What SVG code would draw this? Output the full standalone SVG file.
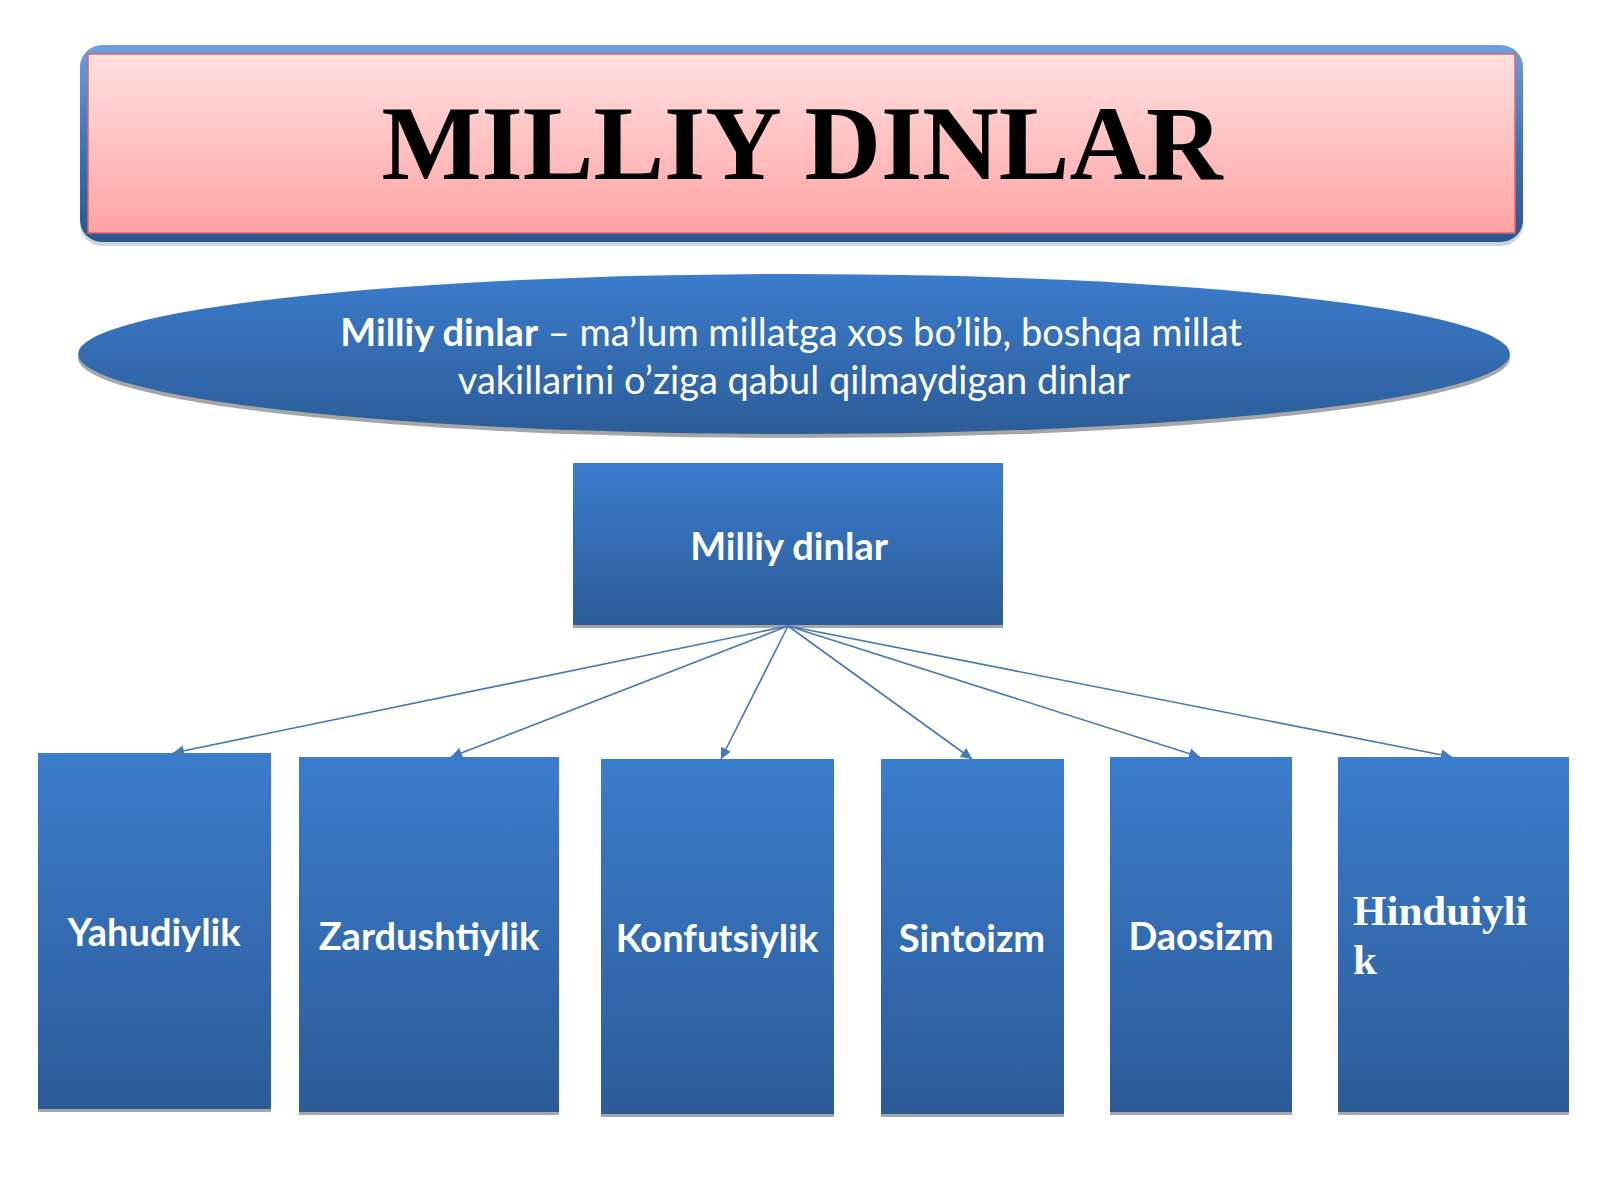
<svg xmlns="http://www.w3.org/2000/svg" width="1600" height="1200" viewBox="0 0 1600 1200">
<defs>
<linearGradient id="gBlue" x1="0" y1="0" x2="0" y2="1">
<stop offset="0" stop-color="#3b7ccc"/>
<stop offset="1" stop-color="#2c5c98"/>
</linearGradient>
<linearGradient id="gPink" x1="0" y1="0" x2="0" y2="1">
<stop offset="0" stop-color="#ffe0e1"/>
<stop offset="1" stop-color="#ffa3a3"/>
</linearGradient>
<linearGradient id="gFrame" x1="0" y1="0" x2="0" y2="1">
<stop offset="0" stop-color="#6f9fdc"/>
<stop offset="0.5" stop-color="#3f74b8"/>
<stop offset="1" stop-color="#2a568f"/>
</linearGradient>
<marker id="ah" viewBox="0 0 10 10" refX="10" refY="5" markerWidth="12" markerHeight="11" orient="auto" markerUnits="userSpaceOnUse">
<path d="M0,0 L10,5 L0,10 z" fill="#4677b6"/>
</marker>
<style>
.box{fill:url(#gBlue);}
.shadow{fill:#a6a6a6;}
.lbl{font-family:Lato,"Liberation Sans",sans-serif;font-weight:bold;fill:#ffffff;font-size:38px;text-anchor:middle;}
.conn{stroke:#4677b6;stroke-width:1.6;fill:none;marker-end:url(#ah);}
</style>
</defs>
<rect width="1600" height="1200" fill="#ffffff"/>

<g id="title">
<rect x="80" y="48" width="1443" height="198" rx="22" fill="#9aa9bd" opacity="0.5"/>
<rect x="80" y="45" width="1443" height="197" rx="22" fill="url(#gFrame)"/>
<rect x="88" y="54" width="1427" height="179" fill="url(#gPink)" stroke="#e06464" stroke-width="1.5"/>
<text x="802" y="179" font-family="'Liberation Serif','Times New Roman',serif" font-weight="bold" font-size="106" text-anchor="middle" fill="#000000">MILLIY DINLAR</text>
</g>

<g id="definition">
<ellipse cx="794" cy="358" rx="716" ry="80" fill="#a6a6a6"/>
<ellipse cx="794" cy="354" rx="716" ry="80" fill="url(#gBlue)"/>
<text font-family="Lato,'Liberation Sans',sans-serif" font-size="38" fill="#ffffff" text-anchor="middle">
<tspan x="796" y="346"><tspan font-weight="bold">Milliy dinlar</tspan> – ma’lum millatga xos bo’lib, boshqa millat</tspan>
<tspan x="794" y="394">vakillarini o’ziga qabul qilmaydigan dinlar</tspan>
</text>
</g>

<g id="root">
<rect class="shadow" x="573" y="466" width="430" height="162"/>
<rect class="box" x="573" y="463" width="430" height="162"/>
<text class="lbl" x="789" y="560">Milliy dinlar</text>
</g>

<g id="n1">
<rect class="shadow" x="38" y="756" width="233" height="356"/>
<rect class="box" x="38" y="753" width="233" height="356"/>
<text class="lbl" x="154" y="946">Yahudiylik</text>
</g>
<g id="n2">
<rect class="shadow" x="299" y="760" width="260" height="355"/>
<rect class="box" x="299" y="757" width="260" height="355"/>
<text class="lbl" x="429" y="950">Zardushtiylik</text>
</g>
<g id="n3">
<rect class="shadow" x="601" y="762" width="233" height="355"/>
<rect class="box" x="601" y="759" width="233" height="355"/>
<text class="lbl" x="717" y="952">Konfutsiylik</text>
</g>
<g id="n4">
<rect class="shadow" x="881" y="762" width="183" height="355"/>
<rect class="box" x="881" y="759" width="183" height="355"/>
<text class="lbl" x="972" y="952">Sintoizm</text>
</g>
<g id="n5">
<rect class="shadow" x="1110" y="760" width="182" height="355"/>
<rect class="box" x="1110" y="757" width="182" height="355"/>
<text class="lbl" x="1201" y="950">Daosizm</text>
</g>
<g id="n6">
<rect class="shadow" x="1338" y="760" width="231" height="355"/>
<rect class="box" x="1338" y="757" width="231" height="355"/>
<text font-family="'Liberation Serif','Times New Roman',serif" font-weight="bold" font-size="43" fill="#ffffff">
<tspan x="1353" y="925">Hinduiyli</tspan>
<tspan x="1353" y="974">k</tspan>
</text>
</g>

<g id="connectors">
<line class="conn" x1="788" y1="626" x2="173" y2="753"/>
<line class="conn" x1="788" y1="626" x2="451" y2="757"/>
<line class="conn" x1="788" y1="626" x2="721" y2="759"/>
<line class="conn" x1="788" y1="626" x2="972" y2="759"/>
<line class="conn" x1="788" y1="626" x2="1200" y2="757"/>
<line class="conn" x1="788" y1="626" x2="1452" y2="757"/>
</g>
</svg>
